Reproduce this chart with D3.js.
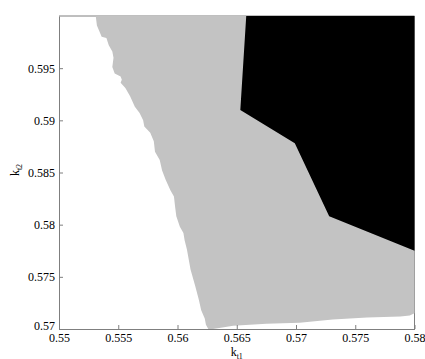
<!DOCTYPE html>
<html>
<head>
<meta charset="utf-8">
<script src="https://cdn.jsdelivr.net/npm/d3@7"></script>
<style>
  body { margin: 0; background: #fff; }
  svg { display: block; }
  text { font-family: "Liberation Serif", "DejaVu Serif", serif; fill: #000; }
</style>
</head>
<body>
<svg id="graph"></svg>
<script>
var width = 425
var height = 359

var xTicks = [0.55, 0.555, 0.56, 0.565, 0.57, 0.575, 0.58]
var xTickLabels = ["0.55", "0.555", "0.56", "0.565", "0.57", "0.575", "0.58"]
var yTicks = [0.57, 0.575, 0.58, 0.585, 0.59, 0.595]
var yTickLabels = ["0.57", "0.575", "0.58", "0.585", "0.59", "0.595"]

// grey region: left boundary (top to bottom), then bottom boundary
var greyX = [0.5531, 0.5532, 0.5536, 0.5540, 0.5542, 0.5545, 0.5546, 0.5545, 0.5547, 0.5552,
             0.5553, 0.5552, 0.5556, 0.5560, 0.5564, 0.5568, 0.5571, 0.5572, 0.5577, 0.5580,
             0.5581, 0.5585, 0.5587, 0.5590, 0.5594, 0.5597, 0.5598, 0.5599, 0.5602, 0.5605,
             0.5606, 0.5608, 0.5611, 0.5615, 0.5618, 0.5620, 0.5623, 0.5624, 0.5626, 0.5630,
             0.5647, 0.5675, 0.5703, 0.5731, 0.5760, 0.5788, 0.5796, 0.58, 0.58]
var greyY = [0.6, 0.5991, 0.5980, 0.5979, 0.5972, 0.5966, 0.5960, 0.5951, 0.5945, 0.5942,
             0.5939, 0.5936, 0.5931, 0.5923, 0.5913, 0.5907, 0.5900, 0.5894, 0.5888, 0.5880,
             0.5870, 0.5862, 0.5852, 0.5843, 0.5833, 0.5827, 0.5817, 0.5808, 0.5798, 0.5792,
             0.5785, 0.5776, 0.5757, 0.5741, 0.5728, 0.5718, 0.5710, 0.5704, 0.57, 0.57,
             0.5703, 0.5705, 0.5706, 0.5709, 0.5711, 0.5712, 0.5713, 0.5715, 0.6]

// black region
var blackX = [0.5658, 0.5653, 0.5699, 0.5728, 0.58, 0.58]
var blackY = [0.6, 0.5910, 0.5878, 0.5808, 0.5775, 0.6]

var plotL = 59, plotR = 414.5, plotT = 16, plotB = 329

var xScale = d3.scaleLinear().domain([0.55, 0.58]).range([plotL, plotR])
var yScale = d3.scaleLinear().domain([0.57, 0.6]).range([plotB, plotT])

var svg = d3.select("#graph")
  .attr("width", width)
  .attr("height", height)

svg.append("rect").attr("width", width).attr("height", height).attr("fill", "#fff")

var axisColor = "#7f7f7f"

// top and right box lines (under the fills)
svg.append("path")
  .attr("d", "M" + plotL + "," + plotT + "H" + plotR + "V" + plotB)
  .attr("fill", "none")
  .attr("stroke", axisColor)
  .attr("stroke-width", 1)

svg.append("clipPath").attr("id", "plotclip")
  .append("rect")
  .attr("x", plotL).attr("y", plotT - 0.5)
  .attr("width", plotR - plotL + 1).attr("height", plotB - plotT + 0.5)

var area = svg.append("g").attr("clip-path", "url(#plotclip)")

var line = d3.line()
  .x(function(d) { return xScale(d[0]) })
  .y(function(d) { return yScale(d[1]) })

area.append("path")
  .datum(d3.zip(greyX, greyY))
  .attr("d", function(d) { return line(d) + "Z" })
  .attr("fill", "#c3c3c3")

area.append("path")
  .datum(d3.zip(blackX, blackY))
  .attr("d", function(d) { return line(d) + "Z" })
  .attr("fill", "#000")

// bottom axis
var xAxis = d3.axisBottom(xScale)
  .tickValues(xTicks)
  .tickSizeInner(-4)
  .tickSizeOuter(0)
  .tickPadding(4)
  .tickFormat(function(d, i) { return xTickLabels[i] })

var gx = svg.append("g")
  .attr("transform", "translate(0," + plotB + ")")
  .call(xAxis)
gx.select(".domain").attr("stroke", axisColor)
gx.selectAll(".tick line").attr("stroke", axisColor)
gx.selectAll("text")
  .attr("font-size", 12)
  .attr("font-family", "Liberation Serif")
  .attr("fill", "#000")

// left axis
var yAxis = d3.axisLeft(yScale)
  .tickValues(yTicks)
  .tickSizeInner(-4)
  .tickSizeOuter(0)
  .tickPadding(4)
  .tickFormat(function(d, i) { return yTickLabels[i] })

var gy = svg.append("g")
  .attr("transform", "translate(" + plotL + ",0)")
  .call(yAxis)
gy.select(".domain").attr("stroke", axisColor)
gy.selectAll(".tick line").attr("stroke", axisColor)
gy.selectAll("text")
  .attr("font-size", 12)
  .attr("font-family", "Liberation Serif")
  .attr("fill", "#000")
// the bottom y label sits a little higher, as in the original
gy.selectAll("text").filter(function(d) { return d === 0.57 })
  .attr("y", -3)

// axis labels
var xl = svg.append("text")
  .attr("x", (plotL + plotR) / 2)
  .attr("y", 356)
  .attr("text-anchor", "middle")
  .attr("font-size", 12)
xl.append("tspan").text("k")
xl.append("tspan").attr("font-size", 8).attr("dy", 2.5).text("t1")

var yl = svg.append("text")
  .attr("transform", "translate(19,170) rotate(-90)")
  .attr("text-anchor", "middle")
  .attr("font-size", 12)
yl.append("tspan").text("k")
yl.append("tspan").attr("font-size", 8).attr("dy", 3).text("t2")
</script>
</body>
</html>
